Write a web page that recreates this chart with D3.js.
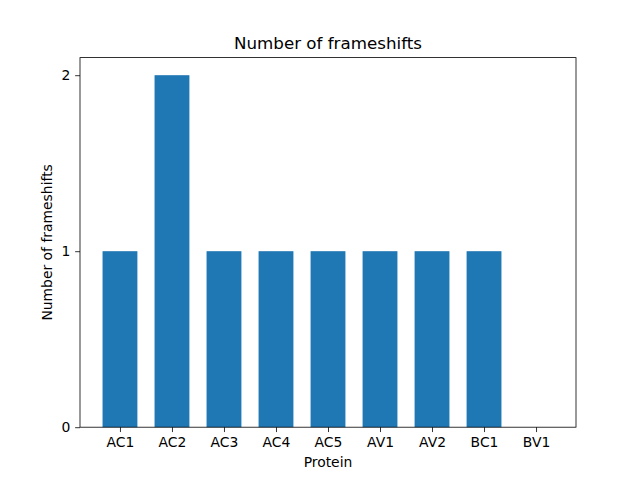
<!DOCTYPE html>
<html>
<head>
<meta charset="utf-8">
<script src="https://cdn.jsdelivr.net/npm/d3@7"></script>
<style>
  body { margin: 0; background: #fff; }
  text { font-family: "DejaVu Sans", sans-serif; fill: #000; }
</style>
</head>
<body>
<svg id="chart" width="640" height="480"></svg>
<script>
// chart data
const proteins = ['AC1', 'AC2', 'AC3', 'AC4', 'AC5', 'AV1', 'AV2', 'BC1', 'BV1'];
const frameshifts = [1, 2, 1, 1, 1, 1, 1, 1, 0];
const yTicks = [0, 1, 2];

const margin = { left: 80, right: 576, top: 57.6, bottom: 427.2 };
const barW = 0.67;
const span = proteins.length - 1 + barW;
const pad = span * 0.05;

const svg = d3.select('#chart');

const x = d3.scaleLinear()
    .domain([-barW / 2 - pad, proteins.length - 1 + barW / 2 + pad])
    .range([margin.left, margin.right]);

const y = d3.scaleLinear()
    .domain([0, d3.max(frameshifts) * 1.05])
    .range([margin.bottom, margin.top]);

// bars
svg.append('g')
    .selectAll('rect')
    .data(frameshifts)
    .join('rect')
    .attr('x', (d, i) => x(i - barW / 2))
    .attr('width', (d, i) => x(i + barW / 2) - x(i - barW / 2))
    .attr('y', d => y(d))
    .attr('height', d => y(0) - y(d))
    .attr('fill', '#1f77b4');

const tickLen = 4.86, tickPad = 4.86;

const xAxis = svg.append('g')
    .attr('transform', `translate(0,${margin.bottom})`)
    .call(d3.axisBottom(x)
        .tickValues(d3.range(proteins.length))
        .tickFormat(i => proteins[i])
        .tickSizeInner(tickLen).tickSizeOuter(0).tickPadding(tickPad));

const yAxis = svg.append('g')
    .attr('transform', `translate(${margin.left},0)`)
    .call(d3.axisLeft(y)
        .tickValues(yTicks)
        .tickFormat(d3.format('d'))
        .tickSizeInner(tickLen).tickSizeOuter(0).tickPadding(tickPad));

[xAxis, yAxis].forEach(g => {
    g.select('.domain').remove();
    g.selectAll('line').attr('stroke', '#000').attr('stroke-width', 0.8);
    g.selectAll('text').attr('font-size', 13.9).style('font-family', '"DejaVu Sans", sans-serif');
});

// frame
svg.append('rect')
    .attr('x', margin.left).attr('y', margin.top)
    .attr('width', margin.right - margin.left).attr('height', margin.bottom - margin.top)
    .attr('fill', 'none').attr('stroke', '#000').attr('stroke-width', 0.8);

// title and labels
const cx = (margin.left + margin.right) / 2;
svg.append('text')
    .attr('x', cx).attr('y', margin.top - 8.3)
    .attr('text-anchor', 'middle')
    .attr('font-size', 16.7)
    .text('Number of frameshifts');

svg.append('text')
    .attr('x', cx).attr('y', 467)
    .attr('text-anchor', 'middle')
    .attr('font-size', 13.9)
    .text('Protein');

svg.append('text')
    .attr('transform', `translate(52,${(margin.top + margin.bottom) / 2}) rotate(-90)`)
    .attr('text-anchor', 'middle')
    .attr('font-size', 13.9)
    .text('Number of frameshifts');
</script>
</body>
</html>
